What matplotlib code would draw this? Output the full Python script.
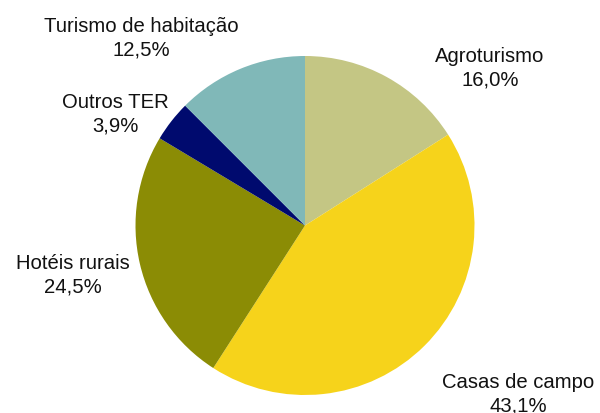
import matplotlib
matplotlib.use("Agg")
import matplotlib.pyplot as plt

categories = ["Agroturismo", "Casas de campo", "Hotéis rurais", "Outros TER", "Turismo de habitação"]
values = [16.0, 43.1, 24.5, 3.9, 12.5]
colors = ["#C4C684", "#F6D31B", "#8B8C05", "#000A6E", "#80B8B8"]
pct_labels = [f"{v:.1f}%".replace(".", ",") for v in values]
# label block centres in pixel coordinates (x from left, y from top)
label_pos = [(490, 68), (518, 394), (73, 275), (115, 114), (141, 38)]

W, H = 600, 413
fig = plt.figure(figsize=(W / 100, H / 100), dpi=100)
ax = fig.add_axes([0, 0, 1, 1])
cx, cy, r = 305, 225.5, 169.5

ax.pie(values, colors=colors, startangle=90, counterclock=False, radius=1,
       wedgeprops=dict(linewidth=0), frame=True)
ax.set_xlim(-cx / r, (W - cx) / r)
ax.set_ylim(-(H - cy) / r, cy / r)
ax.set_aspect("auto")
ax.axis("off")

for cat, p, (px, py) in zip(categories, pct_labels, label_pos):
    fig.text(px / W, 1 - py / H, f"{cat}\n{p}", ha="center", va="center",
             fontsize=14.6, family="Liberation Sans", linespacing=1.27, color="#111111")

fig.savefig("out.png", dpi=100)
